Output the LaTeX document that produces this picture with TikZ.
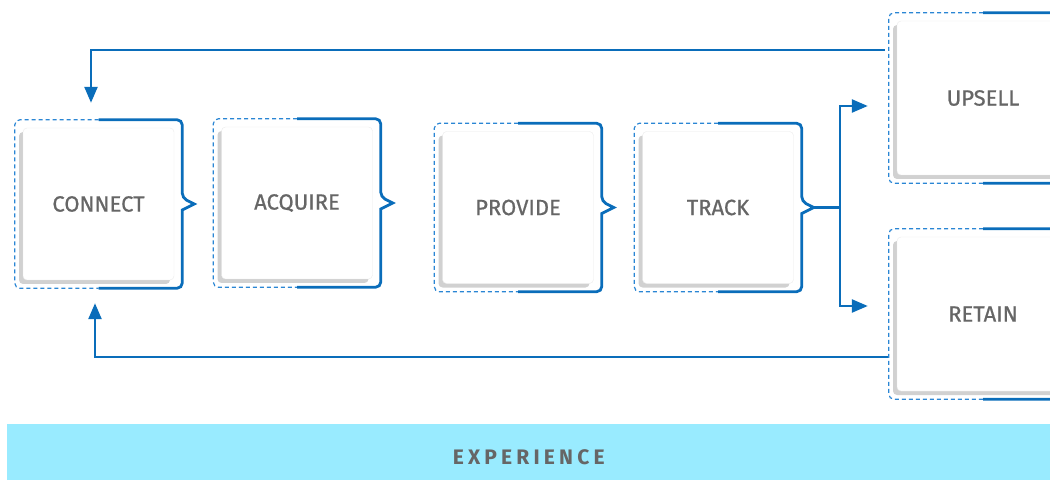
\documentclass[tikz,border=0pt]{standalone}
\usepackage{fontspec}
\setmainfont{Fira Sans}
\newfontfamily\cardfont{Fira Sans}[FakeBold=0.7]
\newfontfamily\barfont{Fira Sans}[LetterSpace=20.0]
\usetikzlibrary{arrows.meta,calc,shadows}
\definecolor{flow}{HTML}{0A6DBA}
\definecolor{flowsoft}{HTML}{2A86D4}
\definecolor{label}{HTML}{666666}
\definecolor{band}{HTML}{99EBFF}

% solid and dashed halves of the frame round each card
\newcommand{\cardframe}[1]{%
  \draw[dashhalf] ($(#1.north)+(0,8)$) -- ($(#1.north west)+(-8,8)$) -- ($(#1.south west)+(-8,-8)$) -- ($(#1.south)+(0,-8)$);
  \draw[solidhalf] ($(#1.north)+(0,8)$) -- ($(#1.north east)+(8,8)$) -- ($(#1.east)+(8,6)$) [sharp corners] -- ($(#1.east)+(20,0)$) -- ($(#1.east)+(8,-6)$) [rounded corners=5pt] -- ($(#1.south east)+(8,-8)$) -- ($(#1.south)+(0,-8)$);
}

\begin{document}
\begin{tikzpicture}[x=1pt, y=1pt,
  card/.style={draw=black!8, rounded corners=4pt, fill=white, inner sep=0pt,
    minimum width=151pt, minimum height=152pt, text=label,
    font=\cardfont\fontsize{22}{25}\selectfont,
    drop shadow={shadow xshift=-4pt, shadow yshift=-4pt, fill=black!30, opacity=0.6}},
  wide/.style={minimum width=172pt, minimum height=154pt},
  dashhalf/.style={draw=flowsoft, line width=1.2pt, dash pattern=on 4pt off 3pt, rounded corners=5pt},
  solidhalf/.style={draw=flow, line width=2.8pt, rounded corners=5pt},
  arr/.style={draw=flow, line width=2.4pt, -{Triangle[length=16pt, width=13pt]}},
]
\useasboundingbox (0,0) rectangle (1050,480);
\clip (0,0) rectangle (1050,480);

% process steps
\node[card] (connect) at (98.5,276) {CONNECT};
\node[card] (acquire) at (297,277) {ACQUIRE};
\node[card] (provide) at (518,272.5) {PROVIDE};
\node[card] (track) at (718,272.5) {TRACK};
\node[card, wide] (upsell) at (983,382) {UPSELL};
\node[card, wide] (retain) at (983,166) {RETAIN};

\cardframe{connect}
\cardframe{acquire}
\cardframe{provide}
\cardframe{track}
\cardframe{upsell}
\cardframe{retain}

% split after tracking
\coordinate (split) at ($(track.east)+(46,0)$);
\draw[flow, line width=2.4pt] ($(track.east)+(20,0)$) -- (split);
\draw[arr] (split) |- ([xshift=-29pt, yshift=-8pt]upsell.west);
\draw[arr] (split) |- ([xshift=-29pt, yshift=8pt]retain.west);

% loops back to the start
\draw[arr] ([xshift=-12pt, yshift=48pt]upsell.west) -| ([xshift=-7.5pt, yshift=25pt]connect.north);
\draw[arr] ([xshift=-9pt, yshift=-43pt]retain.west) -| ([xshift=-3.5pt, yshift=-23pt]connect.south);

% band along the bottom
\node[fill=band, minimum width=1043pt, minimum height=56pt, inner sep=0pt, anchor=south west,
  text=label, font=\barfont\bfseries\fontsize{21}{23}\selectfont] (experience) at (7,0) {\raisebox{-12.5pt}[0pt][0pt]{EXPERIENCE}};
\end{tikzpicture}
\end{document}
